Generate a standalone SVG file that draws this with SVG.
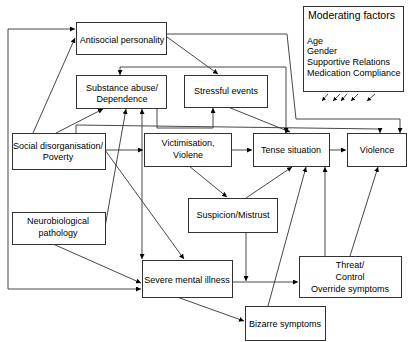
<svg xmlns="http://www.w3.org/2000/svg" width="412" height="342" viewBox="0 0 412 342">
<style>
.box{fill:#fff;stroke:#333;stroke-width:1}
.t{font-family:"Liberation Sans",Arial,sans-serif;font-size:9px;fill:#000;text-anchor:middle}
.tl{font-family:"Liberation Sans",Arial,sans-serif;font-size:9px;fill:#000}
.c{fill:none;stroke:#333;stroke-width:0.9}
.a{marker-end:url(#ah)}
.b{marker-start:url(#ah);marker-end:url(#ah)}
</style>
<defs>
<marker id="ah" markerUnits="userSpaceOnUse" markerWidth="6" markerHeight="5" refX="5" refY="2.5" orient="auto-start-reverse">
<path d="M0,0 L5,2.5 L0,5 Z" fill="#000"/>
</marker>
<marker id="sa" markerUnits="userSpaceOnUse" markerWidth="5" markerHeight="4" refX="4" refY="2" orient="auto">
<path d="M0,0 L4,2 L0,4 Z" fill="#000"/>
</marker>
</defs>
<rect width="412" height="342" fill="#fff"/>
<g id="connectors">
<path class="c b" d="M141,289 H8 V29 H75"/>
<path class="c a" d="M33,133 L75,38"/>
<path class="c a" d="M56,133 L103,109"/>
<path class="c a" d="M76,133 V125 L380,129 V133"/>
<path class="c a" d="M157,108 V128 H213 V108"/>
<path class="c a" d="M105,227 L126,109"/>
<path class="c b" d="M142,109 V259"/>
<path class="c a" d="M105,150 H143"/>
<path class="c a" d="M105,150 L184,259"/>
<path class="c a" d="M53,244 L141,283"/>
<path class="c a" d="M167,37 L218,74"/>
<path class="c a" d="M167,34 H287 L296,119 H400 V133"/>
<path class="c b" d="M120,75 V67 H286 V133"/>
<path class="c a" d="M228,107 L290,132"/>
<path class="c a" d="M231,150 H252"/>
<path class="c a" d="M329,150 H346"/>
<path class="c a" d="M189,166 L227,197"/>
<path class="c a" d="M246,198 L292,167"/>
<path class="c a" d="M246,232 V281"/>
<path class="c a" d="M232,282 H298"/>
<path class="c a" d="M177,297 L244,321"/>
<path class="c a" d="M268,306 L306,167"/>
<path class="c a" d="M325,256 V167"/>
<path class="c a" d="M350,256 L378,167"/>
<path class="c" marker-end="url(#sa)" d="M328,94 L322,101"/>
<path class="c" marker-end="url(#sa)" d="M340,94 L333,101"/>
<path class="c" marker-end="url(#sa)" d="M347,94 L341,101"/>
<path class="c" marker-end="url(#sa)" d="M358,94 L351,101"/>
<path class="c" marker-end="url(#sa)" d="M375,94 L367,101"/>
</g>
<g id="antisocial"><rect class="box" x="76.5" y="22.5" width="90" height="32"/><text class="t" x="122" y="43">Antisocial personality</text></g>
<g id="substance"><rect class="box" x="76.5" y="75.5" width="90" height="33"/><text class="t" x="122" y="91">Substance abuse/</text><text class="t" x="122" y="102">Dependence</text></g>
<g id="stressful"><rect class="box" x="184.5" y="75.5" width="83" height="32"/><text class="t" x="226" y="94">Stressful events</text></g>
<g id="moderating"><rect class="box" x="303.5" y="6.5" width="100" height="85"/><text class="tl" x="308" y="19" style="font-size:10.5px">Moderating factors</text><text class="tl" x="307" y="44">Age</text><text class="tl" x="307" y="54">Gender</text><text class="tl" x="307" y="65">Supportive Relations</text><text class="tl" x="307" y="76">Medication Compliance</text></g>
<g id="social"><rect class="box" x="12.5" y="133.5" width="93" height="36"/><text class="t" x="58" y="149">Social disorganisation/</text><text class="t" x="58" y="160">Poverty</text></g>
<g id="victimisation"><rect class="box" x="144.5" y="133.5" width="87" height="33"/><text class="t" x="188" y="146">Victimisation,</text><text class="t" x="188" y="158">Violene</text></g>
<g id="tense"><rect class="box" x="253.5" y="133.5" width="76" height="33"/><text class="t" x="291" y="153">Tense situation</text></g>
<g id="violence"><rect class="box" x="347.5" y="133.5" width="59" height="33"/><text class="t" x="377" y="153">Violence</text></g>
<g id="suspicion"><rect class="box" x="188.5" y="198.5" width="89" height="34"/><text class="t" x="233" y="218">Suspicion/Mistrust</text></g>
<g id="neuro"><rect class="box" x="12.5" y="212.5" width="93" height="32"/><text class="t" x="58" y="224">Neurobiological</text><text class="t" x="58" y="236">pathology</text></g>
<g id="severe"><rect class="box" x="142.5" y="260.5" width="90" height="37"/><text class="t" x="187" y="283">Severe mental illness</text></g>
<g id="threat"><rect class="box" x="299.5" y="256.5" width="102" height="41"/><text class="t" x="350" y="268">Threat/</text><text class="t" x="350" y="280">Control</text><text class="t" x="350" y="292">Override symptoms</text></g>
<g id="bizarre"><rect class="box" x="245.5" y="306.5" width="80" height="34"/><text class="t" x="285" y="327">Bizarre symptoms</text></g>
</svg>
